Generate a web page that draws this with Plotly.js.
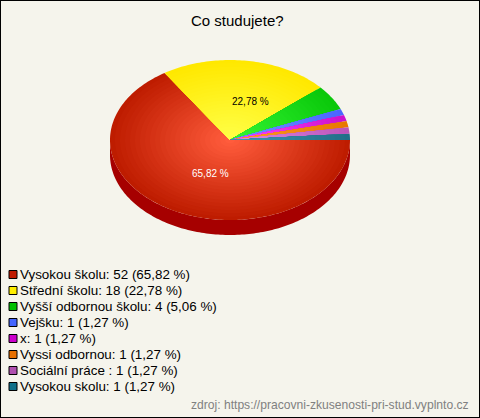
<!DOCTYPE html>
<html><head><meta charset="utf-8">
<script src="https://cdn.plot.ly/plotly-3.0.1.min.js"></script>
<style>html,body{margin:0;padding:0;background:#f5f4ec;overflow:hidden}</style>
</head><body><div id="chart" style="width:480px;height:418px"></div>
<script>
const categories = ["Vysokou školu","Střední školu","Vyšší odbornou školu","Vejšku","x","Vyssi odbornou","Sociální práce ","Vysokou skolu"];
const counts = [52,18,4,1,1,1,1,1];
const percents = ["65,82","22,78","5,06","1,27","1,27","1,27","1,27","1,27"];
const swatchColors = ["#c01a00","#ffee00","#00c000","#4466ff","#cc00cc","#e87000","#b050b0","#10708a"];
const edgeColors = [[190,28,0],[255,232,0],[10,200,10],[74,102,255],[204,17,204],[232,120,0],[187,85,187],[31,111,136]];
const centerColors = [[255,92,60],[255,255,70],[52,245,52],[110,150,255],[255,70,255],[255,155,40],[225,140,225],[70,150,180]];
const title = "Co studujete?";
const source = "zdroj: https://pracovni-zkusenosti-pri-stud.vyplnto.cz";

const cx=230, cy=140, rx=120, ry=80, depth=15, rings=24;
const total = counts.reduce((a,b)=>a+b,0);
const traces=[];
const arc=(a0,a1,f,dy=0)=>{const n=Math.max(2,Math.ceil(Math.abs(a1-a0)/0.02));const xs=[],ys=[];
  for(let i=0;i<=n;i++){const a=a0+(a1-a0)*i/n;xs.push(cx+rx*f*Math.cos(a));ys.push(cy+dy+ry*f*Math.sin(a));}return [xs,ys];};
// side wall
{const [x1,y1]=arc(0,Math.PI,1,depth);const [x0,y0]=arc(Math.PI,0,1,0);
 traces.push({x:x1.concat(x0),y:y1.concat(y0),mode:'none',fill:'toself',fillcolor:'#a60000',showlegend:false});}
// top face, nested sectors for the radial shading
let start=0;
counts.forEach((v,i)=>{
  const end=start+v/total*2*Math.PI;
  for(let r=0;r<rings;r++){
    const t=r/(rings-1), f=1-r/rings;
    const c=edgeColors[i].map((e,k)=>Math.round(e+(centerColors[i][k]-e)*t));
    const [xs,ys]=arc(start,end,f);
    traces.push({x:[cx].concat(xs,[cx]),y:[cy].concat(ys,[cy]),mode:'none',fill:'toself',fillcolor:`rgb(${c})`,showlegend:false});
  }
  start=end;
});
// legend
const legendY=categories.map((_,i)=>274.5+16*i);
traces.push({x:categories.map(()=>13),y:legendY,mode:'markers',showlegend:false,
  marker:{symbol:'square',size:8,color:swatchColors,line:{color:'#000',width:1}}});
const anns=categories.map((c,i)=>({x:17.5,y:legendY[i],xref:'x',yref:'y',xanchor:'left',yanchor:'middle',showarrow:false,
  text:`${c}: ${counts[i]} (${percents[i]} %)`,font:{family:'Liberation Sans',size:13.4,color:'#000'}}));
anns.push({x:210,y:173,xref:'x',yref:'y',showarrow:false,text:percents[0]+" %",font:{family:'Liberation Sans',size:10,color:'#fff'}});
anns.push({x:250,y:101,xref:'x',yref:'y',showarrow:false,text:percents[1]+" %",font:{family:'Liberation Sans',size:10,color:'#000'}});
anns.push({x:237.5,y:20,xref:'x',yref:'y',showarrow:false,text:title,font:{family:'Liberation Sans',size:15,color:'#000'}});
anns.push({x:471,y:405,xref:'x',yref:'y',xanchor:'right',showarrow:false,text:source,font:{family:'Liberation Sans',size:12.1,color:'#808080'}});
Plotly.newPlot('chart',traces,{
  width:480,height:418,margin:{l:0,r:0,t:0,b:0},
  paper_bgcolor:'#f5f4ec',plot_bgcolor:'#f5f4ec',showlegend:false,
  xaxis:{range:[0,480],visible:false,fixedrange:true},
  yaxis:{range:[418,0],visible:false,fixedrange:true},
  annotations:anns,
  shapes:[{type:'rect',xref:'paper',yref:'paper',x0:0,x1:1,y0:0,y1:1,line:{color:'#000',width:2},fillcolor:'rgba(0,0,0,0)'}]
},{staticPlot:true});
</script></body></html>
